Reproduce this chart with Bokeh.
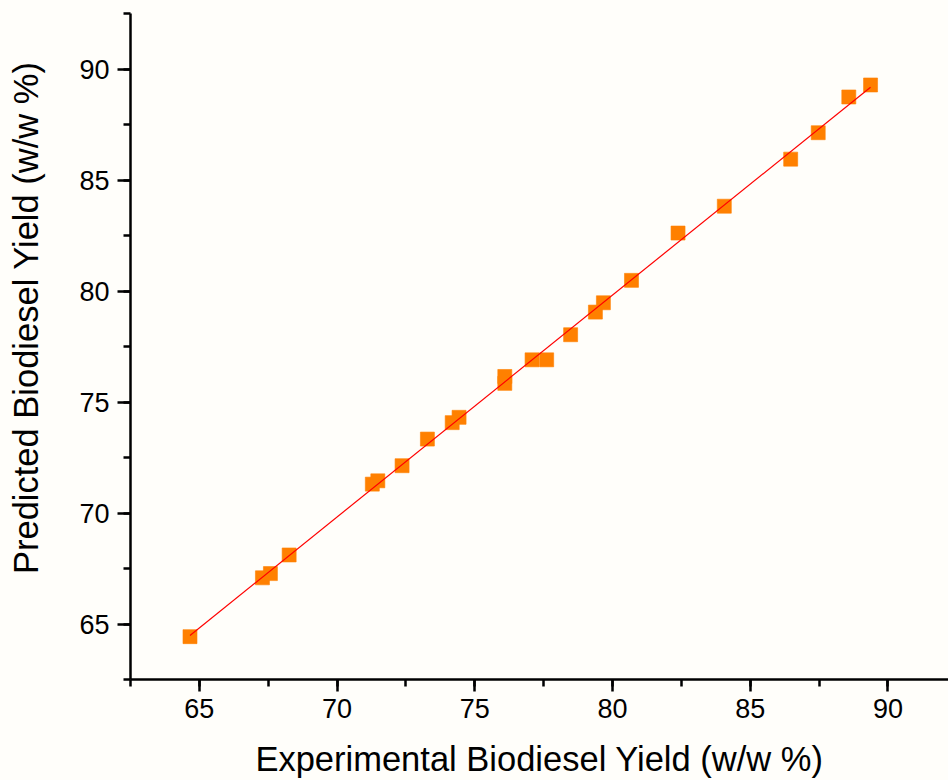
import numpy as np
from bokeh.plotting import figure
from bokeh.models import Range1d, SingleIntervalTicker
from bokeh.embed import file_html
from bokeh.resources import INLINE

# Data
experimental = [64.66, 67.29, 67.58, 68.26, 71.28, 71.48, 72.36, 73.28, 74.18, 74.43,
                76.09, 76.09, 77.08, 77.61, 78.48, 79.38, 79.67, 80.69, 82.38, 84.06,
                86.47, 87.47, 88.58, 89.37]
predicted = [64.43, 67.08, 67.27, 68.11, 71.30, 71.45, 72.13, 73.33, 74.07, 74.31,
             76.15, 75.84, 76.90, 76.90, 78.03, 79.05, 79.47, 80.48, 82.61, 83.82,
             85.94, 87.13, 88.74, 89.28]

x_title = "Experimental Biodiesel Yield (w/w %)"
y_title = "Predicted Biodiesel Yield (w/w %)"

BG = "#fffefa"
FONT = "Liberation Sans"

p = figure(width=948, height=780, output_backend="svg", toolbar_location=None,
           x_range=Range1d(62.5, 92.2), y_range=Range1d(62.5, 92.5),
           min_border_left=130, min_border_right=0, min_border_top=13,
           min_border_bottom=100)
p.background_fill_color = BG
p.border_fill_color = BG
p.outline_line_color = None
p.grid.visible = False

# linear fit of predicted vs experimental
slope, intercept = np.polyfit(experimental, predicted, 1)
fx = np.array([min(experimental), max(experimental)])
fy = slope * fx + intercept

p.scatter(experimental, predicted, marker="square", size=14,
          fill_color="#ff8000", line_color="#ff8000", line_alpha=0.6)
p.line(fx, fy, line_color="#ff0000", line_width=1.2)

for ax in (p.xaxis[0], p.yaxis[0]):
    ax.ticker = SingleIntervalTicker(interval=5, num_minor_ticks=2)
    ax.axis_line_width = 2.5
    ax.axis_line_color = "black"
    ax.major_tick_line_width = 2.5
    ax.minor_tick_line_width = 2.5
    ax.major_tick_in = 0
    ax.minor_tick_in = 0
    ax.major_label_text_font = FONT
    ax.major_label_text_font_size = "27px"
    ax.major_label_text_color = "black"
    ax.axis_label_text_font = FONT
    ax.axis_label_text_font_size = "34.5px"
    ax.axis_label_text_font_style = "normal"
    ax.axis_label_text_color = "black"

p.xaxis.major_tick_out = 12
p.xaxis.minor_tick_out = 7
p.yaxis.major_tick_out = 13
p.yaxis.minor_tick_out = 7
p.xaxis.major_label_standoff = 7
p.yaxis.major_label_standoff = 8

p.xaxis.axis_label = x_title
p.xaxis.axis_label_text_line_height = 0.6
p.xaxis.axis_label_standoff = 19

# the reference's y title sits a little above the frame's centre
p.yaxis.axis_label = "\u00a0" * 6 + y_title
p.yaxis.axis_label_standoff = 31

html = file_html(p, INLINE)
html = html.replace("<head>", "<head><style>body{background:" + BG + ";}</style>", 1)
open("out.html", "w").write(html)
